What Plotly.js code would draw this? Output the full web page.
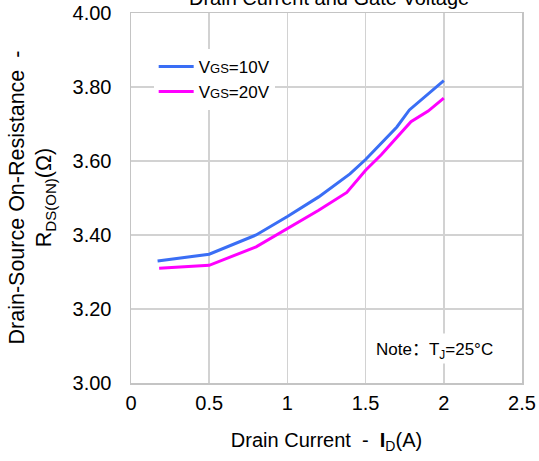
<!DOCTYPE html>
<html>
<head>
<meta charset="utf-8">
<script src="https://cdn.plot.ly/plotly-3.0.1.min.js"></script>
<style>
  html, body { margin: 0; padding: 0; background: #fff; }
  #chart { width: 539px; height: 461px; }
</style>
</head>
<body>
<div id="chart"></div>
<script>
// Drain-source on-resistance versus drain current, two gate voltages
const currentVgs10 = [0.17, 0.5, 0.8, 1.0, 1.2, 1.4, 1.5, 1.6, 1.7, 1.78, 1.9, 2.0];
const rdsVgs10     = [3.33, 3.348, 3.40, 3.45, 3.503, 3.565, 3.604, 3.648, 3.692, 3.738, 3.78, 3.817];

const currentVgs20 = [0.18, 0.5, 0.8, 1.0, 1.2, 1.38, 1.5, 1.6, 1.7, 1.79, 1.9, 2.0];
const rdsVgs20     = [3.31, 3.318, 3.368, 3.418, 3.467, 3.515, 3.575, 3.617, 3.664, 3.706, 3.735, 3.77];

const seriesNames = ['V<span style="font-size:13px">GS</span>=10V', 'V<span style="font-size:13px">GS</span>=20V'];
const xTickVals = [0, 0.5, 1, 1.5, 2, 2.5];
const xTickText = ['0', '0.5', '1', '1.5', '2', '2.5'];
const yTickVals = [3.0, 3.2, 3.4, 3.6, 3.8, 4.0];
const yTickText = ['3.00', '3.20', '3.40', '3.60', '3.80', '4.00'];

const FONT = 'Liberation Sans, Arial, sans-serif';
const gridColor = '#d2d2d2';

const traces = [
  { x: currentVgs10, y: rdsVgs10, name: seriesNames[0], mode: 'lines',
    line: { color: '#3a6ef5', width: 3 } },
  { x: currentVgs20, y: rdsVgs20, name: seriesNames[1], mode: 'lines',
    line: { color: '#ff00ff', width: 3 } }
];

const layout = {
  width: 539, height: 461,
  margin: { l: 131, r: 17, t: 13, b: 77.5 },
  paper_bgcolor: '#fff', plot_bgcolor: '#fff',
  font: { family: FONT, size: 20, color: '#000' },
  showlegend: true,
  legend: {
    x: 0.058, y: 0.903, xanchor: 'left', yanchor: 'top',
    bgcolor: '#fff', borderwidth: 0,
    font: { family: FONT, size: 17, color: '#000' },
    tracegroupgap: 0, itemwidth: 35
  },
  xaxis: {
    range: [0, 2.5], tickvals: xTickVals, ticktext: xTickText,
    showgrid: true, gridcolor: gridColor, gridwidth: 1.5,
    showline: true, linecolor: '#c4c4c4', linewidth: 1.5, mirror: true,
    zeroline: false, ticks: '', ticklabelstandoff: 1,
    tickfont: { family: FONT, size: 20, color: '#000' },
    title: { text: 'Drain Current&nbsp;&nbsp;-&nbsp;&nbsp;<b>I</b><sub>D</sub>(A)', standoff: 20,
             font: { family: FONT, size: 20, color: '#000' } }
  },
  yaxis: {
    range: [3.0, 4.0], tickvals: yTickVals, ticktext: yTickText,
    showgrid: true, gridcolor: gridColor, gridwidth: 1.5,
    showline: true, linecolor: '#c4c4c4', linewidth: 1.5, mirror: true,
    zeroline: false, ticks: '', ticklabelstandoff: 14,
    tickfont: { family: FONT, size: 20, color: '#000' }
  },
  annotations: [
    { text: 'Drain Current and Gate Voltage', xref: 'paper', yref: 'paper',
      x: 0.5, y: 1.04, xanchor: 'center', yanchor: 'middle', xshift: 2,
      showarrow: false, font: { family: FONT, size: 20, color: '#000' } },
    { text: 'Drain-Source On-Resistance&nbsp;&nbsp;-<br>R<sub>DS(ON)</sub>(Ω)',
      xref: 'paper', yref: 'paper', x: 0, y: 0.5, xanchor: 'center', yanchor: 'middle',
      xshift: -99.5, textangle: -90, showarrow: false,
      font: { family: FONT, size: 21.5, color: '#000' } },
    { text: 'Note<span style="font-family:Noto Sans CJK SC">：</span>T<sub>J</sub>=25°C',
      xref: 'paper', yref: 'paper',
      x: 0.775, y: 0.094, xanchor: 'center', yanchor: 'middle',
      bgcolor: '#fff', showarrow: false,
      font: { family: FONT, size: 17, color: '#000' } }
  ]
};

Plotly.newPlot('chart', traces, layout, { displayModeBar: false, staticPlot: true });
</script>
</body>
</html>
